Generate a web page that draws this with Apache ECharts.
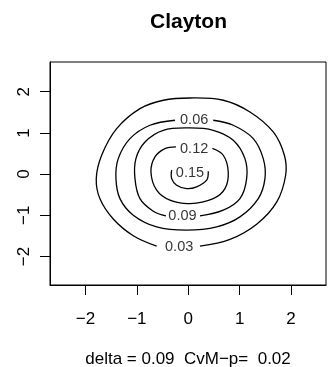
<!DOCTYPE html>
<html>
<head>
<meta charset="utf-8">
<title>Clayton</title>
<script src="https://cdn.jsdelivr.net/npm/echarts@6/dist/echarts.min.js"></script>
<style>
  html, body { margin: 0; padding: 0; background: #fff; }
  #chart { width: 329px; height: 367px; }
</style>
</head>
<body>
<div id="chart"></div>
<script>
// Contour levels of the fitted density and where each level label sits
const levels = ['0.03', '0.06', '0.09', '0.12', '0.15'];
const labelX = [-0.177, 0.115, -0.113, 0.115, 0.033];
const labelY = [-1.765, 1.307, -1.013, 0.618, 0.036];

// Contour paths (x, y), each starting and ending at the gap left for its label
const contour003 = [
  [0.228, -1.748], [0.811, -1.584], [1.331, -1.215], [1.720, -0.680],
  [1.895, -0.027], [1.870, 0.458], [1.654, 1.023], [1.200, 1.508],
  [0.681, 1.792], [0.033, 1.847], [-0.486, 1.792], [-0.940, 1.588],
  [-1.393, 1.103], [-1.685, 0.458], [-1.790, -0.109], [-1.718, -0.600],
  [-1.459, -1.090], [-1.070, -1.495], [-0.615, -1.748]
];
const contour006 = [
  [0.486, 1.307], [0.875, 1.185], [1.265, 0.861], [1.459, 0.376],
  [1.492, -0.109], [1.362, -0.594], [1.006, -1.038], [0.553, -1.280],
  [-0.031, -1.360], [-0.615, -1.280], [-1.070, -0.996], [-1.329, -0.594],
  [-1.407, -0.109], [-1.362, 0.376], [-1.134, 0.861], [-0.745, 1.185],
  [-0.259, 1.307]
];
const contour009 = [
  [0.228, -1.013], [0.681, -0.875], [1.006, -0.594], [1.136, -0.109],
  [1.103, 0.376], [0.875, 0.822], [0.486, 1.064], [0.033, 1.120],
  [-0.486, 1.064], [-0.842, 0.781], [-1.018, 0.376], [-1.037, -0.109],
  [-0.940, -0.594], [-0.681, -0.899], [-0.434, -1.013]
];
const contour012 = [
  [0.470, 0.622], [0.681, 0.458], [0.778, 0.053], [0.714, -0.352],
  [0.486, -0.594], [0.033, -0.715], [-0.356, -0.633], [-0.615, -0.390],
  [-0.726, 0.053], [-0.648, 0.417], [-0.453, 0.618], [-0.239, 0.659]
];
const contour015 = [
  [0.389, 0.070], [0.358, -0.148], [0.163, -0.310], [-0.031, -0.352],
  [-0.226, -0.269], [-0.323, -0.109], [-0.323, 0.095]
];
const contours = [contour003, contour006, contour009, contour012, contour015];

// Axis ticks and text
const xTicks = [-2, -1, 0, 1, 2];
const yTicks = [-2, -1, 0, 1, 2];
const titleText = 'Clayton';
const subText = 'delta = 0.09  CvM\u2212p=  0.02';

const FONT = 'Liberation Sans, Arial, Helvetica, sans-serif';
const fmtTick = v => String(v).replace('-', '\u2212');

// Each contour is drawn as a smooth curve through its points, placed by the cartesian axes
const contourSeries = {
  type: 'custom',
  silent: true,
  clip: false,
  data: contours.map((c, i) => [i]),
  encode: { x: -1, y: -1 },
  renderItem: (params, api) => {
    const pts = contours[api.value(0)].map(p => api.coord(p));
    return {
      type: 'polyline',
      shape: { points: pts, smooth: 0.36 },
      style: { stroke: '#000', lineWidth: 1.3, fill: null }
    };
  }
};

const labelSeries = {
  type: 'scatter',
  symbolSize: 0,
  silent: true,
  data: levels.map((lv, i) => ({ value: [labelX[i], labelY[i]], name: lv })),
  label: {
    show: true,
    position: 'inside',
    formatter: p => p.name,
    fontFamily: FONT,
    fontSize: 14.5,
    color: '#000'
  }
};

const chart = echarts.init(document.getElementById('chart'), null, { renderer: 'canvas' });
chart.setOption({
  animation: false,
  backgroundColor: '#fff',
  title: {
    text: titleText,
    left: 150,
    top: 12,
    padding: 0,
    textStyle: { fontFamily: FONT, fontSize: 21, fontWeight: 'bold', color: '#000' }
  },
  grid: {
    left: 50, top: 62, width: 276, height: 223,
    outerBoundsMode: 'none',
    containLabel: false,
    show: true, borderColor: '#000', borderWidth: 1, backgroundColor: 'transparent'
  },
  xAxis: {
    type: 'value', min: -2.69, max: 2.68,
    splitLine: { show: false },
    axisLine: { show: true, onZero: false, lineStyle: { color: '#000', width: 1 } },
    axisTick: { show: true, length: 10, customValues: xTicks, lineStyle: { color: '#000', width: 1 } },
    axisLabel: { customValues: xTicks, formatter: fmtTick, fontFamily: FONT, fontSize: 17, color: '#000', margin: 26 },
    name: subText,
    nameLocation: 'middle',
    nameGap: 66,
    nameTextStyle: { fontFamily: FONT, fontSize: 17, color: '#000' }
  },
  yAxis: {
    type: 'value', min: -2.69, max: 2.72,
    splitLine: { show: false },
    axisLine: { show: true, onZero: false, lineStyle: { color: '#000', width: 1 } },
    axisTick: { show: true, length: 10, customValues: yTicks, lineStyle: { color: '#000', width: 1 } },
    axisLabel: { customValues: yTicks, formatter: fmtTick, rotate: 90, fontFamily: FONT, fontSize: 17, color: '#000', margin: 17 }
  },
  series: [contourSeries, labelSeries]
});
</script>
</body>
</html>
